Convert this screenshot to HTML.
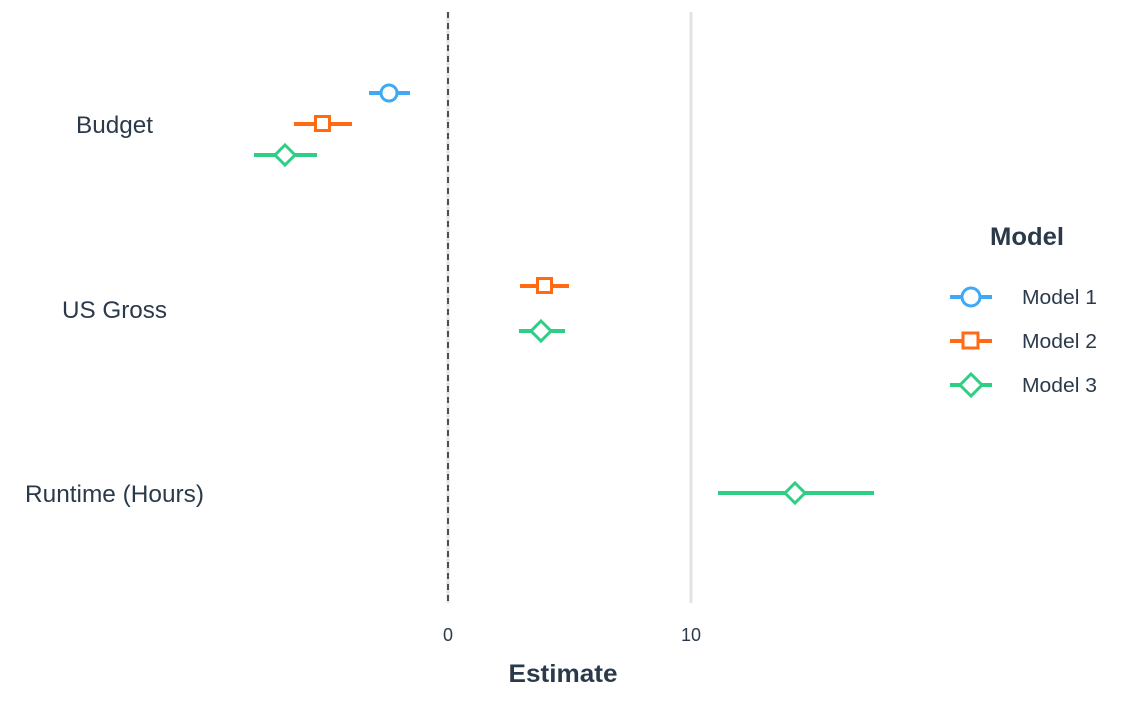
<!DOCTYPE html><html><head><style>body{margin:0;background:#fff}</style></head><body>
<svg width="1137" height="700" xmlns="http://www.w3.org/2000/svg" font-family="Liberation Sans, sans-serif">
<rect width="1137" height="700" fill="#fff"/>
<line x1="448" y1="12" x2="448" y2="603" stroke="#e3e3e3" stroke-width="3"/>
<line x1="691" y1="12" x2="691" y2="603" stroke="#e3e3e3" stroke-width="3"/>
<line x1="448" y1="12" x2="448" y2="603" stroke="#000" stroke-width="1.3" stroke-dasharray="6,5"/>
<g fill="#2b3a4a" font-size="24">
<text x="153" y="133" text-anchor="end" textLength="77" lengthAdjust="spacingAndGlyphs">Budget</text>
<text x="167" y="318" text-anchor="end" textLength="105" lengthAdjust="spacingAndGlyphs">US Gross</text>
<text x="204" y="502" text-anchor="end" textLength="179" lengthAdjust="spacingAndGlyphs">Runtime (Hours)</text>
<text x="448" y="641" text-anchor="middle" font-size="18">0</text>
<text x="691" y="641" text-anchor="middle" font-size="18">10</text>
<text x="563" y="682" text-anchor="middle" font-weight="bold" font-size="25" textLength="109" lengthAdjust="spacingAndGlyphs">Estimate</text>
<text x="1027" y="245" text-anchor="middle" font-weight="bold" font-size="25" textLength="74" lengthAdjust="spacingAndGlyphs">Model</text>
<text x="1022" y="304" font-size="20" textLength="75" lengthAdjust="spacingAndGlyphs">Model 1</text>
<text x="1022" y="348" font-size="20" textLength="75" lengthAdjust="spacingAndGlyphs">Model 2</text>
<text x="1022" y="392" font-size="20" textLength="75" lengthAdjust="spacingAndGlyphs">Model 3</text>
</g>
<g stroke-width="4" fill="#fff">
<line x1="369" y1="93" x2="410" y2="93" stroke="#3fa9f5"/><circle cx="389" cy="93" r="8" stroke="#3fa9f5" stroke-width="3"/>
<line x1="294" y1="124" x2="352" y2="124" stroke="#ff6a13"/><rect x="315.5" y="116.5" width="14" height="14" stroke="#ff6a13" stroke-width="3"/>
<line x1="254" y1="155" x2="317" y2="155" stroke="#2ecf85"/><path d="M285 145 L295 155 L285 165 L275 155Z" stroke="#2ecf85" stroke-width="3"/>
<line x1="520" y1="286" x2="569" y2="286" stroke="#ff6a13"/><rect x="537.5" y="278.5" width="14" height="14" stroke="#ff6a13" stroke-width="3"/>
<line x1="519" y1="331" x2="565" y2="331" stroke="#2ecf85"/><path d="M541 321 L551 331 L541 341 L531 331Z" stroke="#2ecf85" stroke-width="3"/>
<line x1="718" y1="493" x2="874" y2="493" stroke="#2ecf85"/><path d="M795 483 L805 493 L795 503 L785 493Z" stroke="#2ecf85" stroke-width="3"/>
<line x1="950" y1="297" x2="992" y2="297" stroke="#3fa9f5"/><circle cx="971" cy="297" r="9" stroke="#3fa9f5" stroke-width="3"/>
<line x1="950" y1="341" x2="992" y2="341" stroke="#ff6a13"/><rect x="963" y="333" width="15" height="15" stroke="#ff6a13" stroke-width="3"/>
<line x1="950" y1="385" x2="992" y2="385" stroke="#2ecf85"/><path d="M971 374 L982 385 L971 396 L960 385Z" stroke="#2ecf85" stroke-width="3"/>
</g>
</svg></body></html>
